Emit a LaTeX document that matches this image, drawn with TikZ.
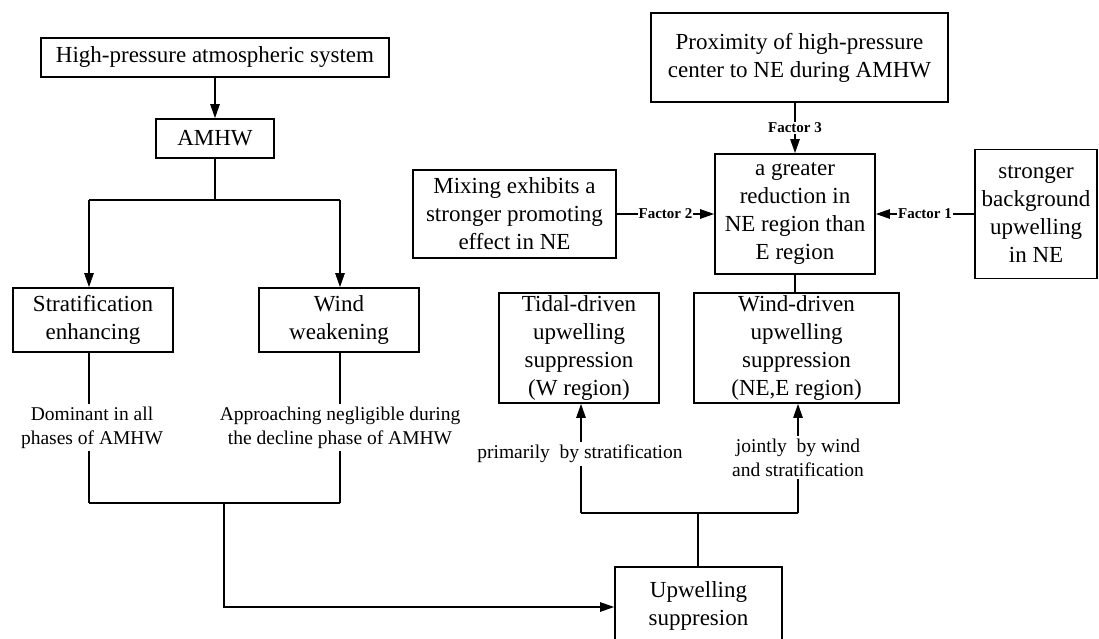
\documentclass[tikz,border=0pt]{standalone}
\usepackage{fontspec}
\setmainfont{Liberation Serif}
\usetikzlibrary{arrows.meta,calc}
\begin{document}
\begin{tikzpicture}[x=1pt,y=-1pt,
  box/.style={draw,line width=1.8pt,align=center,inner sep=0pt,font=\fontsize{23}{28}\selectfont},
  lbl/.style={align=center,inner sep=2.5pt,font=\fontsize{19.5}{24}\selectfont},
  fac/.style={fill=white,inner sep=1pt,font=\fontsize{15}{17}\selectfont\bfseries},
  conn/.style={line width=1.1pt},
  arr/.style={conn,-{Triangle[length=14pt,width=9.5pt]}}]
\useasboundingbox (0,0) rectangle (1099,639);
% left column
\node[box,minimum width=348,minimum height=39] (hp) at (215,57.5) {High-pressure atmospheric system};
\node[box,minimum width=118,minimum height=39] (amhw) at (215,138.5) {AMHW};
\node[box,minimum width=160,minimum height=64] (strat) at (93,320) {Stratification\\enhancing};
\node[box,minimum width=160,minimum height=64] (windw) at (339,320) {Wind\\weakening};
\node[lbl] (lab1) at (92,427.5) {Dominant in all\\phases of AMHW};
\node[lbl] (lab2) at (340,427.5) {Approaching negligible during\\the decline phase of AMHW};
% right column
\node[box,minimum width=297,minimum height=89] (prox) at (799.5,57.5) {Proximity of high-pressure\\center to NE during AMHW};
\node[box,minimum width=160,minimum height=120] (greater) at (795,214) {a greater\\reduction in\\NE region than\\E region};
\node[box,minimum width=203,minimum height=88] (mix) at (514.5,214) {Mixing exhibits a\\stronger promoting\\effect in NE};
\node[box,minimum width=122,minimum height=129] (strong) at (1036,214) {stronger\\background\\upwelling\\in NE};
\node[box,minimum width=160,minimum height=110] (tidal) at (579,348) {Tidal-driven\\upwelling\\suppression\\(W region)};
\node[box,minimum width=205,minimum height=110] (windd) at (796.5,348) {Wind-driven\\upwelling\\suppression\\(NE,E region)};
\node[lbl] (lab3) at (580,454) {primarily\ \ by stratification};
\node[lbl] (lab4) at (798,457.5) {jointly\ \ by wind\\and stratification};
\node[box,minimum width=167,minimum height=78] (upw) at (698.5,606) {Upwelling\\suppresion};
% coordinates
\coordinate (a1) at (215,200);
\coordinate (s1) at (89,200);
\coordinate (w1) at (340,200);
\coordinate (s2) at (89,503);
\coordinate (w2) at (340,503);
\coordinate (d1) at (224,503);
\coordinate (d2) at (224,607);
\coordinate (u1) at (698,513);
\coordinate (t1) at (581,513);
\coordinate (r1) at (798,513);
% left connectors
\draw[arr] (hp.south) -- (amhw.north);
\draw[conn] (amhw.south) -- (a1);
\draw[conn] (s1) -- (w1);
\draw[arr] (s1) -- (s1 |- strat.north);
\draw[arr] (w1) -- (w1 |- windw.north);
\draw[conn] (s1 |- strat.south) -- (s1 |- lab1.north);
\draw[conn] (s1 |- lab1.south) -- (s2);
\draw[conn] (w1 |- windw.south) -- (w1 |- lab2.north);
\draw[conn] (w1 |- lab2.south) -- (w2);
\draw[conn] (s2) -- (w2);
\draw[arr] (d1) -- (d2) -- (d2 -| upw.west);
% right connectors
\draw[arr] (greater.north |- prox.south) -- node[fac]{Factor 3} (greater.north);
\draw[arr] (mix.east) -- node[fac]{Factor 2} (greater.west);
\draw[arr] (strong.west) -- node[fac]{Factor 1} (greater.east);
\draw[conn] (greater.south) -- (greater.south |- windd.north);
\draw[conn] (upw.north -| u1) -- (u1);
\draw[conn] (t1) -- (r1);
\draw[conn] (t1) -- (t1 |- lab3.south);
\draw[arr] (t1 |- lab3.north) -- (t1 |- tidal.south);
\draw[conn] (r1) -- (r1 |- lab4.south);
\draw[arr] (r1 |- lab4.north) -- (r1 |- windd.south);
\end{tikzpicture}
\end{document}
